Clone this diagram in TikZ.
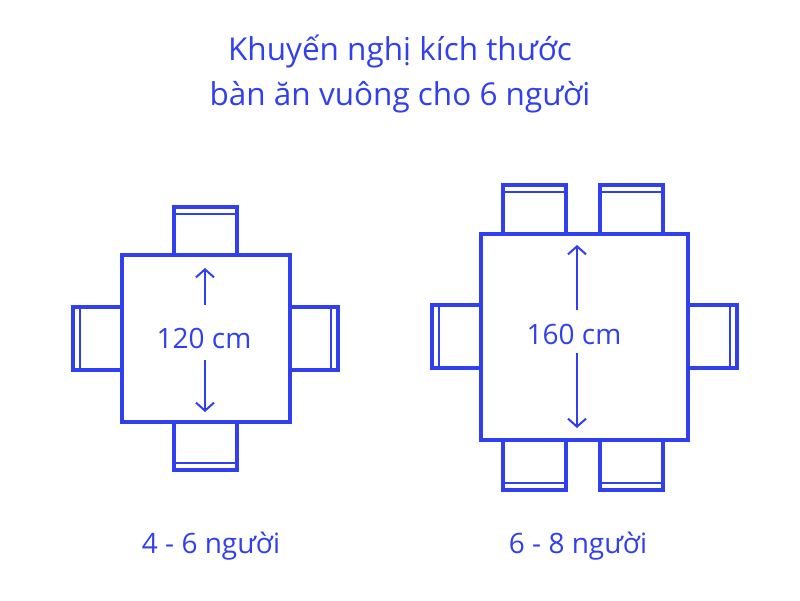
\documentclass[tikz,border=0pt]{standalone}
\usepackage{fontspec}
\setmainfont{Open Sans}
\usetikzlibrary{arrows.meta}
\definecolor{tblue}{HTML}{3040EE}
\tikzset{
  tablebox/.style={draw=tblue, line width=4.4pt, fill=white},
  chairbox/.style={draw=tblue, line width=3.2pt, fill=white},
  backbar/.style={draw=tblue, line width=1.8pt},
  measure/.style={draw=tblue, line width=2pt, -{Straight Barb[length=8pt,width=18pt]}},
  lbl/.style={text=tblue, font=\fontsize{28}{32}\selectfont}
}
\begin{document}
\begin{tikzpicture}[x=1pt,y=-1pt]
	\useasboundingbox (0,0) rectangle (800,600);
	
	%title
	\node[lbl, align=center, font=\fontsize{31.5}{45}\selectfont] (title) at (400,74) {Khuyến nghị kích thước\\bàn ăn vuông cho 6 người};
	
	%small table
	\draw[chairbox] (174,207) rectangle (237,255);
	\draw[backbar] (174,214) -- (237,214);
	\draw[chairbox] (174,422) rectangle (237,470);
	\draw[backbar] (174,463) -- (237,463);
	\draw[chairbox] (73,307) rectangle (122,370);
	\draw[backbar] (80,307) -- (80,370);
	\draw[chairbox] (290,307) rectangle (338,370);
	\draw[backbar] (331,307) -- (331,370);
	\draw[tablebox] (122,255) rectangle (290,422);
	\node[lbl] (small) at (204,338) {120 cm};
	\draw[measure] (205,305) -- (205,268);
	\draw[measure] (205,360) -- (205,412);
	\node[lbl] (small_cap) at (211,546) {4 - 6 người};
	
	%big table
	\foreach \cx in {503,600} {
		\draw[chairbox] (\cx,185) rectangle ++(63,49);
		\draw[backbar] (\cx,192) -- ++(63,0);
		\draw[chairbox] (\cx,440) rectangle ++(63,50);
		\draw[backbar] (\cx,483) -- ++(63,0);
	}
	\draw[chairbox] (432,305) rectangle (481,368);
	\draw[backbar] (439,305) -- (439,368);
	\draw[chairbox] (688,305) rectangle (737,368);
	\draw[backbar] (730,305) -- (730,368);
	\draw[tablebox] (481,234) rectangle (688,440);
	\node[lbl] (big) at (574,334) {160 cm};
	\draw[measure] (577,310) -- (577,245);
	\draw[measure] (577,353) -- (577,428);
	\node[lbl] (big_cap) at (578,546) {6 - 8 người};
\end{tikzpicture}
\end{document}
